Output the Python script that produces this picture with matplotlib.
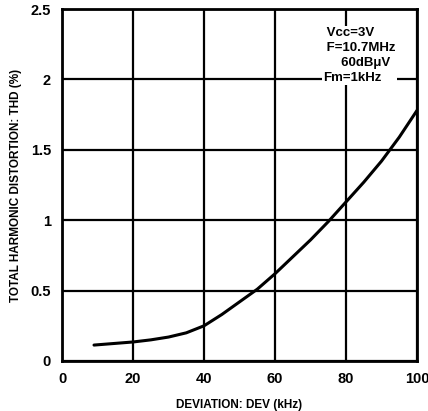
import matplotlib
matplotlib.use("Agg")
import matplotlib.pyplot as plt

plt.rcParams['font.family'] = ['Liberation Sans', 'DejaVu Sans']
plt.rcParams['font.weight'] = 'bold'

# THD vs deviation
dev_khz = [9, 15, 20, 25, 30, 35, 40, 45, 50, 55, 60, 65, 70, 75, 80, 85, 90, 95, 100]
thd_pct = [0.113, 0.125, 0.135, 0.15, 0.17, 0.2, 0.25, 0.33, 0.42, 0.51, 0.62,
           0.74, 0.86, 0.99, 1.13, 1.27, 1.42, 1.59, 1.78]

x_ticks = [0, 20, 40, 60, 80, 100]
y_ticks = [0, 0.5, 1, 1.5, 2, 2.5]
y_tick_labels = ['0', '0.5', '1', '1.5', '2', '2.5']
conditions = [' Vcc=3V', ' F=10.7MHz', '     60dB\u03bcV', 'Fm=1kHz']

fig = plt.figure(figsize=(4.28, 4.11), dpi=100)
ax = fig.add_axes([0.145, 0.1217, 0.8294, 0.8564])

ax.plot(dev_khz, thd_pct, color='black', linewidth=2.2, solid_capstyle='round', zorder=3)

ax.set_xlim(0, 100)
ax.set_ylim(0, 2.5)
ax.set_xticks(x_ticks)
ax.set_yticks(y_ticks)
ax.set_yticklabels(y_tick_labels)
ax.tick_params(length=0, labelsize=10.5, pad=8)
for lbl in ax.get_xticklabels() + ax.get_yticklabels():
    lbl.set_fontweight('bold')
ax.grid(True, color='black', linewidth=1.6)
for s in ax.spines.values():
    s.set_linewidth(2)

ax.set_xlabel('DEVIATION: DEV (kHz)', fontsize=8.5, fontweight='bold', labelpad=9)
ax.set_ylabel('TOTAL HARMONIC DISTORTION: THD (%)', fontsize=8.5, fontweight='bold', labelpad=6)

ax.text(73.5, 2.37, '\n'.join(conditions), fontsize=9.5, fontweight='bold',
        va='top', ha='left', linespacing=1.32, zorder=4,
        bbox=dict(facecolor='white', edgecolor='none', pad=1))

fig.savefig('out.png', dpi=100)
